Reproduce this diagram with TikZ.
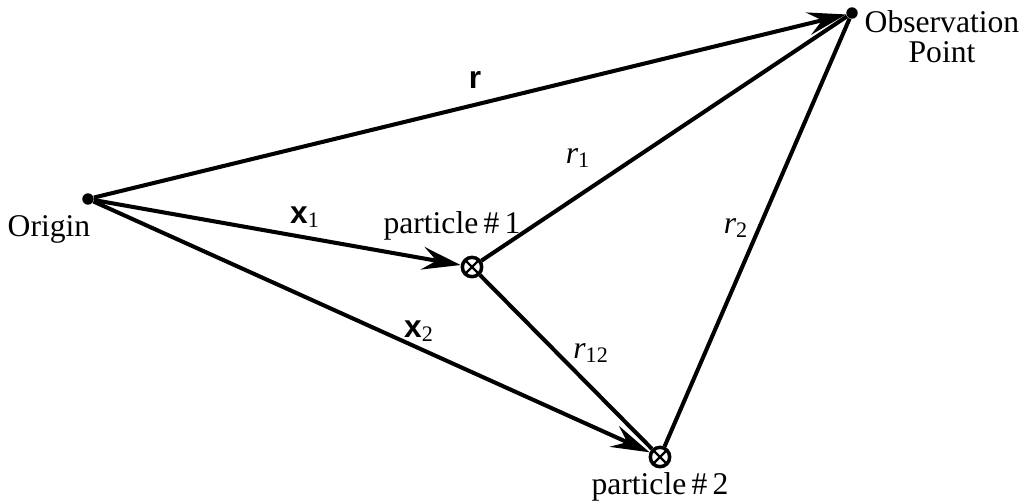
\documentclass[tikz,border=0pt]{standalone}
\usepackage{fontspec}
\setmainfont{Liberation Serif}
\newfontfamily\vecfont{Liberation Sans}
\usepackage{tikz}
\usetikzlibrary{
    arrows.meta,
    positioning
}
\newcommand{\vecsym}[1]{{\vecfont\bfseries #1}}
\tikzset{
    vec/.style={
        line width=2.3pt,
        -{Stealth[length=22pt,width=13pt,inset=8pt]}
    },
    seg/.style={
        line width=2.3pt
    },
    pointdot/.style={
        circle,
        fill,
        inner sep=0pt,
        minimum size=6.5pt
    },
    partdot/.style={
        circle,
        draw,
        fill=white,
        line width=2pt,
        inner sep=0pt,
        minimum size=11pt,
        path picture={
            \draw[line width=1.3pt]
            (path picture bounding box.south west)
            --
            (path picture bounding box.north east)
            (path picture bounding box.north west)
            --
            (path picture bounding box.south east);
        }
    },
    lbl/.style={
        font=\fontsize{18}{21}\selectfont,
        inner sep=1pt
    }
}

\begin{document}
\begin{tikzpicture}[x=0.02cm,y=-0.02cm]
%
    \useasboundingbox
    (0,0)
    rectangle
    (1021,501);
%
    \node[pointdot] (origin) at (88,199) {};
    \node[pointdot] (obs) at (852,13) {};
    \node[partdot] (p1) at (472,267) {};
    \node[partdot] (p2) at (660,457) {};
%
    \draw[seg]
    (p1)
    --
    (obs);
    \draw[seg]
    (p2)
    --
    (obs);
    \draw[seg]
    (p1)
    --
    (p2);
%
    \draw[vec]
    (origin)
    --
    (obs);
    \draw[vec]
    (origin)
    --
    (p1);
    \draw[vec]
    (origin)
    --
    (p2);
%
    \node[lbl] (originlbl) at (49,229) {Origin};
    \node[lbl, align=center] (obslbl) at (942,37) {Observation\\[-4pt]Point};
    \node[lbl] (p1lbl) at (452,226) {particle\,\#\,1};
    \node[lbl] (p2lbl) at (660,487) {particle\,\#\,2};
%
    \node[lbl] (rlbl) at (475,80) {\vecsym{r}};
    \node[lbl] (xonelbl) at (305,217) {\vecsym{x}\textsubscript{1}};
    \node[lbl] (xtwolbl) at (419,331) {\vecsym{x}\textsubscript{2}};
    \node[lbl] (ronelbl) at (578,158) {\textit{r}\textsubscript{1}};
    \node[lbl] (rtwolbl) at (736,228) {\textit{r}\textsubscript{2}};
    \node[lbl] (rtwelvelbl) at (591,353) {\textit{r}\textsubscript{12}};
%
\end{tikzpicture}
\end{document}
